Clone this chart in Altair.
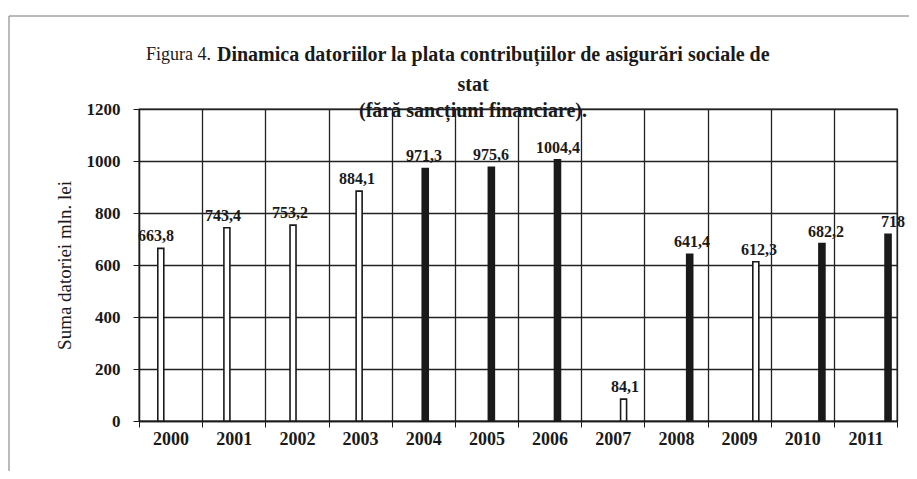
import altair as alt
import pandas as pd

years = ["2000", "2001", "2002", "2003", "2004", "2005", "2006", "2007", "2008", "2009", "2010", "2011"]
values = [663.8, 743.4, 753.2, 884.1, 971.3, 975.6, 1004.4, 84.1, 641.4, 612.3, 682.2, 718]
styles = ["hollow", "hollow", "hollow", "hollow", "solid", "solid", "solid",
          "hollow", "solid", "hollow", "solid", "solid"]
y_ticks = [0, 200, 400, 600, 800, 1000, 1200]

title_prefix = "Figura 4."
title_line1 = "Dinamica datoriilor la plata contribuțiilor de asigurări sociale de"
title_line2 = "stat"
title_line3 = "(fără sancțiuni financiare)."
y_title = "Suma datoriei mln. lei"

df = pd.DataFrame({
    "year": years,
    "value": values,
    "style": styles,
    "idx": list(range(len(years))),
    "label": [f"{v:g}".replace(".", ",") for v in values],
})

FONT = "Liberation Serif"
INK = "#1a1a1a"
W, H = 758, 312

yscale = alt.Scale(domain=[0, 1200], nice=False)
bar_x = alt.Scale(domain=[-0.254, 11.06], nice=False, zero=False)

# category axis with grid at band boundaries
axis_layer = alt.Chart(df).mark_point(opacity=0).encode(
    x=alt.X("year:N", sort=years,
            scale=alt.Scale(type="band", paddingInner=0, paddingOuter=0),
            axis=alt.Axis(title=None, tickBand="extent", grid=True, gridColor="#222",
                          gridWidth=1.3, ticks=True, tickSize=6, tickColor=INK,
                          domainColor=INK, domainWidth=1.3, labelAngle=0,
                          labelFont=FONT, labelFontSize=18, labelFontWeight="bold",
                          labelColor=INK, labelPadding=3)),
    y=alt.Y("value:Q", scale=yscale,
            axis=alt.Axis(values=y_ticks, format="d", title=y_title, titleFont=FONT,
                          titleFontSize=19, titleFontWeight="normal", titleColor=INK,
                          titlePadding=12,
                          grid=True, gridColor="#222", gridWidth=1.3,
                          tickSize=6, tickColor=INK, domainColor=INK, domainWidth=1.3,
                          labelFont=FONT, labelFontSize=17, labelFontWeight="bold",
                          labelColor=INK, labelPadding=13)),
)

bars = alt.Chart(df).mark_bar(size=6, stroke=INK, strokeWidth=1.6).encode(
    x=alt.X("idx:Q", scale=bar_x, axis=None),
    y=alt.Y("value:Q", scale=yscale),
    fill=alt.Fill("style:N", scale=alt.Scale(domain=["hollow", "solid"], range=["white", INK]),
                  legend=None),
)

labels = alt.Chart(df).mark_text(font=FONT, fontSize=16, fontWeight="bold", color=INK, dy=-12).encode(
    x=alt.X("idx:Q", scale=bar_x, axis=None),
    y=alt.Y("value:Q", scale=yscale),
    text="label:N",
)

t_df = pd.DataFrame({"t": [0]})
t_prefix = alt.Chart(t_df).mark_text(text=title_prefix, font=FONT, fontSize=18, color=INK,
                                     align="right").encode(x=alt.value(72), y=alt.value(-54))
t1 = alt.Chart(t_df).mark_text(text=title_line1, font=FONT, fontSize=20, fontWeight="bold",
                               color=INK, align="left").encode(x=alt.value(78), y=alt.value(-54))
t2 = alt.Chart(t_df).mark_text(text=title_line2, font=FONT, fontSize=20, fontWeight="bold",
                               color=INK, align="center").encode(x=alt.value(334), y=alt.value(-24))
t3 = alt.Chart(t_df).mark_text(text=title_line3, font=FONT, fontSize=20, fontWeight="bold",
                               color=INK, align="center").encode(x=alt.value(334), y=alt.value(2))

frame = alt.Chart(t_df).mark_rect(fill=None, stroke="#777", strokeWidth=1).encode(
    x=alt.value(-130), x2=alt.value(776), y=alt.value(-93), y2=alt.value(420))

chart = alt.layer(frame, axis_layer, bars, labels, t_prefix, t1, t2, t3).resolve_scale(
    x="independent"
).properties(
    width=W, height=H,
    autosize=alt.AutoSizeParams(type="none"),
    padding={"left": 131, "top": 101, "right": 12, "bottom": 50},
    background="white",
).configure_view(stroke=INK, strokeWidth=1.3)

chart.save("out.html", embed_options={"renderer": "svg", "actions": False})
